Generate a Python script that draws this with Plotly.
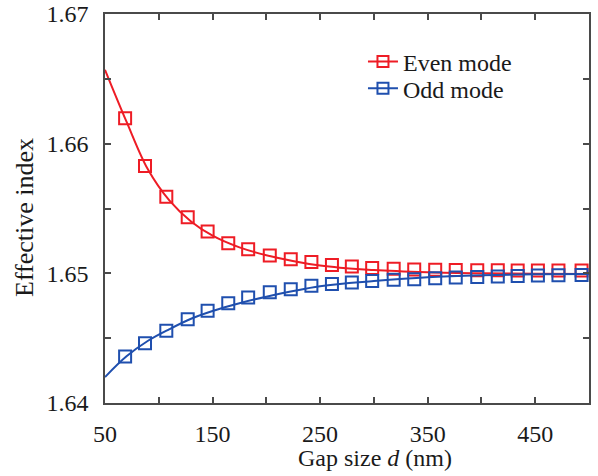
import plotly.graph_objects as go

# Gap sizes (nm) of the simulated points
gap_nm = [68.7, 87.2, 107.0, 126.9, 145.4, 164.6, 183.1, 203.2, 222.7, 241.9, 261.0, 279.5,
          298.4, 318.4, 337.5, 357.0, 376.1, 396.1, 415.2, 433.7, 452.5, 471.6, 493.1]

# Effective index of the even (symmetric) supermode
even_index = [1.66196, 1.65828, 1.65591, 1.65433, 1.65322, 1.65232, 1.65186, 1.65137, 1.65109,
              1.65088, 1.65065, 1.65052, 1.65042, 1.65035, 1.65030, 1.65027, 1.65025, 1.65024,
              1.65023, 1.65022, 1.65022, 1.65021, 1.65021]

# Effective index of the odd (antisymmetric) supermode
odd_index = [1.64358, 1.64461, 1.64558, 1.64646, 1.64712, 1.64769, 1.64813, 1.64854, 1.64877,
             1.64905, 1.64918, 1.64930, 1.64940, 1.64950, 1.64955, 1.64962, 1.64968, 1.64972,
             1.64976, 1.64980, 1.64983, 1.64985, 1.64988]

# Fitted curves sampled along the gap axis
fit_gap = [50, 70, 90, 110, 130, 150, 175, 200, 250, 300, 350, 400, 450, 500]
fit_even = [1.6657, 1.6617, 1.6580, 1.6556, 1.6540, 1.6529, 1.6520, 1.6514, 1.6506,
            1.65025, 1.65008, 1.65000, 1.64997, 1.64995]
fit_odd = [1.6420, 1.6436, 1.6448, 1.6457, 1.6465, 1.6471, 1.6477, 1.6482, 1.6490,
           1.6494, 1.6497, 1.64985, 1.64992, 1.64995]

x_ticks = [50, 100, 150, 200, 250, 300, 350, 400, 450, 500]
x_labels = ["50", "", "150", "", "250", "", "350", "", "450", ""]
y_ticks = [1.64, 1.645, 1.65, 1.655, 1.66, 1.665, 1.67]
y_labels = ["1.64", "", "1.65", "", "1.66", "", "1.67"]

RED = "#ee1c25"
BLUE = "#1f4fae"
SERIF = "Liberation Serif"
AXIS = "#4a4a4a"
TEXT = "#1a1a1a"

fig = go.Figure()

for name, ys, fit, color, leg in [("Even mode", even_index, fit_even, RED, "legend"),
                                  ("Odd mode", odd_index, fit_odd, BLUE, "legend2")]:
    fig.add_trace(go.Scatter(
        x=fit_gap, y=fit, mode="lines",
        line=dict(color=color, width=2, shape="spline", smoothing=1.0),
        showlegend=False, hoverinfo="skip"))
    fig.add_trace(go.Scatter(
        x=gap_nm, y=ys, mode="markers", showlegend=False,
        marker=dict(symbol="square-open", size=12, color=color, line=dict(width=2, color=color))))
    # legend entry: line through an open square
    fig.add_trace(go.Scatter(
        x=[None], y=[None], mode="lines+markers", name=name, legend=leg,
        line=dict(color=color, width=2),
        marker=dict(symbol="square-open", size=11, color=color, line=dict(width=2, color=color))))

axis_common = dict(
    showline=True, linecolor=AXIS, linewidth=1.5, mirror="ticks",
    ticks="inside", ticklen=6, tickwidth=1.5, tickcolor=AXIS,
    showgrid=False, zeroline=False, tickmode="array", automargin=False,
    tickfont=dict(family=SERIF, size=24, color=TEXT),
)

fig.update_xaxes(range=[50, 500], tickvals=x_ticks, ticktext=x_labels,
                 ticklabelstandoff=8, **axis_common)
fig.update_yaxes(range=[1.64, 1.67], tickvals=y_ticks, ticktext=y_labels,
                 ticklabelstandoff=10, **axis_common)

legend_common = dict(xanchor="left", yanchor="top", bgcolor="rgba(0,0,0,0)",
                     font=dict(family=SERIF, size=24, color=TEXT), itemwidth=30)

fig.update_layout(
    width=598, height=476,
    margin=dict(l=105, r=9, t=14, b=73),
    plot_bgcolor="white", paper_bgcolor="white",
    font=dict(family=SERIF, size=24, color=TEXT),
    legend=dict(x=0.533, y=0.935, **legend_common),
    legend2=dict(x=0.533, y=0.866, **legend_common),
    annotations=[
        dict(text="Gap size <i>d</i> (nm)", xref="paper", yref="paper",
             x=(375 - 105) / 484, y=-(458 - 403) / 389, xanchor="center", yanchor="middle",
             showarrow=False, font=dict(family=SERIF, size=24, color=TEXT)),
        dict(text="Effective index", xref="paper", yref="paper", textangle=-90,
             x=-(105 - 24) / 484, y=(403 - 218) / 389, xanchor="center", yanchor="middle",
             showarrow=False, font=dict(family=SERIF, size=26, color=TEXT)),
    ],
)

fig.write_html("out.html")
